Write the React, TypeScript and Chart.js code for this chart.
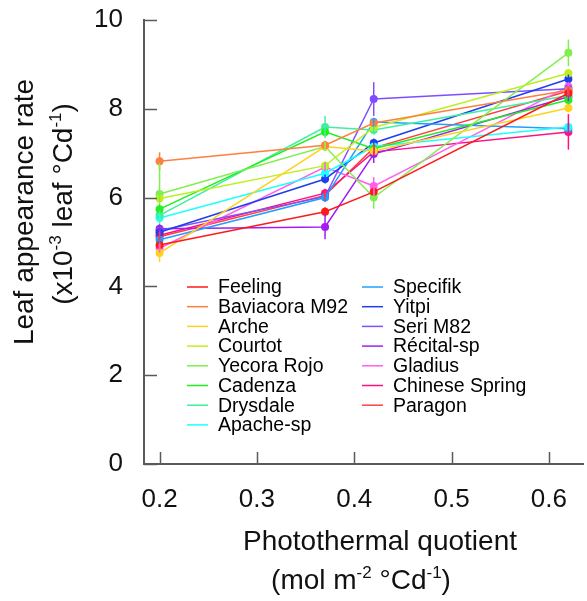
import React, { useEffect, useRef } from "react";
import { Chart, registerables } from "chart.js";

Chart.register(...registerables);

const xValues = [0.2, 0.37, 0.42, 0.62];

const seriesNames = [
  "Feeling", "Baviacora M92", "Arche", "Courtot", "Yecora Rojo", "Cadenza", "Drysdale", "Apache-sp",
  "Specifik", "Yitpi", "Seri M82", "Récital-sp", "Gladius", "Chinese Spring", "Paragon",
];

const seriesColors = [
  "#FF1A1A", "#FF7F3F", "#FFD21F", "#BFEF1F", "#7FEF4F", "#1FEF1F", "#3FEF9F", "#1FFFFF",
  "#1F9FFF", "#1F3FEF", "#7F4FFF", "#A01FEF", "#FF5FEF", "#FF0F7F", "#FF3F3F",
];

const feeling = [4.93, 5.68, 6.13, 8.35];
const baviacora = [6.82, 7.18, 7.68, 8.42];
const arche = [4.75, 7.15, 7.05, 8.02];
const courtot = [5.98, 6.72, 7.58, 8.8];
const yecora = [6.08, 7.15, 6.0, 9.26];
const cadenza = [5.74, 7.48, 7.1, 8.2];
const drysdale = [5.6, 7.59, 7.52, 8.3];
const apache = [5.54, 6.55, 7.15, 7.59];
const specifik = [5.05, 6.0, 7.7, 7.55];
const yitpi = [5.22, 6.42, 7.23, 8.67];
const seri = [5.26, 6.02, 8.22, 8.45];
const recital = [5.3, 5.34, 6.98, 8.27];
const gladius = [4.86, 6.69, 6.26, 8.5];
const chinese = [5.15, 6.1, 7.03, 7.48];
const paragon = [5.12, 6.05, 7.12, 8.4];

const feelingErr = [0.1, 0.1, 0.1, 0.12];
const baviacoraErr = [0.2, 0.1, 0.1, 0.1];
const archeErr = [0.2, 0.1, 0.1, 0.1];
const courtotErr = [0.1, 0.1, 0.1, 0.1];
const yecoraErr = [0.7, 0.1, 0.25, 0.3];
const cadenzaErr = [0.1, 0.1, 0.1, 0.1];
const drysdaleErr = [0.1, 0.25, 0.1, 0.1];
const apacheErr = [0.1, 0.1, 0.1, 0.1];
const specifikErr = [0.1, 0.1, 0.1, 0.1];
const yitpiErr = [0.1, 0.1, 0.1, 0.1];
const seriErr = [0.1, 0.1, 0.38, 0.1];
const recitalErr = [0.1, 0.28, 0.2, 0.1];
const gladiusErr = [0.1, 0.1, 0.2, 0.1];
const chineseErr = [0.1, 0.1, 0.1, 0.4];
const paragonErr = [0.1, 0.1, 0.1, 0.1];

const seriesValues = [feeling, baviacora, arche, courtot, yecora, cadenza, drysdale, apache,
  specifik, yitpi, seri, recital, gladius, chinese, paragon];
const seriesErrors = [feelingErr, baviacoraErr, archeErr, courtotErr, yecoraErr, cadenzaErr, drysdaleErr, apacheErr,
  specifikErr, yitpiErr, seriErr, recitalErr, gladiusErr, chineseErr, paragonErr];

const xTicks = [0.2, 0.3, 0.4, 0.5, 0.6];
const yTicks = [0, 2, 4, 6, 8, 10];

const FONT = "'Liberation Sans', Arial, sans-serif";
const AXIS_COLOR = "#595959";

type Part = { t: string; sup?: boolean };

function drawRich(ctx: CanvasRenderingContext2D, parts: Part[], cx: number, cy: number, size: number, supSize: number) {
  const widths = parts.map((p) => {
    ctx.font = `${p.sup ? supSize : size}px ${FONT}`;
    return ctx.measureText(p.t).width;
  });
  const total = widths.reduce((a, b) => a + b, 0);
  let x = cx - total / 2;
  ctx.textBaseline = "alphabetic";
  ctx.textAlign = "left";
  parts.forEach((p, i) => {
    ctx.font = `${p.sup ? supSize : size}px ${FONT}`;
    ctx.fillText(p.t, x, p.sup ? cy - size * 0.38 : cy);
    x += widths[i];
  });
}

const decorPlugin = {
  id: "decor",
  afterDatasetsDraw(chart: any) {
    const ctx = chart.ctx as CanvasRenderingContext2D;
    const xs = chart.scales.x;
    const ys = chart.scales.y;
    chart.data.datasets.forEach((ds: any) => {
      ctx.save();
      ctx.strokeStyle = ds.borderColor;
      ctx.lineWidth = 1.5;
      ds.data.forEach((pt: any, i: number) => {
        const e = ds.errors[i];
        const px = xs.getPixelForValue(pt.x);
        ctx.beginPath();
        ctx.moveTo(px, ys.getPixelForValue(pt.y - e));
        ctx.lineTo(px, ys.getPixelForValue(pt.y + e));
        ctx.stroke();
      });
      ctx.restore();
    });
  },
  afterDraw(chart: any) {
    const ctx = chart.ctx as CanvasRenderingContext2D;
    const xs = chart.scales.x;
    const ys = chart.scales.y;
    const area = chart.chartArea;
    ctx.save();
    ctx.strokeStyle = AXIS_COLOR;
    ctx.lineWidth = 1.5;
    yTicks.forEach((v) => {
      const py = Math.round(ys.getPixelForValue(v)) + 0.5;
      ctx.beginPath();
      ctx.moveTo(area.left, py);
      ctx.lineTo(area.left + 13, py);
      ctx.stroke();
    });
    xTicks.forEach((v) => {
      const px = Math.round(xs.getPixelForValue(v)) + 0.5;
      ctx.beginPath();
      ctx.moveTo(px, area.bottom);
      ctx.lineTo(px, area.bottom - 12);
      ctx.stroke();
    });
    ctx.font = `19.5px ${FONT}`;
    ctx.textBaseline = "middle";
    ctx.textAlign = "left";
    chart.data.datasets.forEach((ds: any, i: number) => {
      const col = i < 8 ? 0 : 1;
      const row = i < 8 ? i : i - 8;
      const y = 287 + row * 19.7;
      const lx = col === 0 ? 187 : 362;
      ctx.strokeStyle = ds.borderColor;
      ctx.lineWidth = 1.5;
      ctx.beginPath();
      ctx.moveTo(lx, y);
      ctx.lineTo(lx + 21, y);
      ctx.stroke();
      ctx.fillStyle = "#000";
      ctx.fillText(ds.label, lx + 31, y + 1);
    });
    ctx.fillStyle = "#111";
    drawRich(ctx, [{ t: "Photothermal quotient" }], 380, 550, 28, 17);
    drawRich(ctx, [{ t: "(mol m" }, { t: "-2", sup: true }, { t: " °Cd" }, { t: "-1", sup: true }, { t: ")" }], 361, 589, 28, 17);
    ctx.save();
    ctx.rotate(-Math.PI / 2);
    drawRich(ctx, [{ t: "Leaf appearance rate" }], -212, 33, 28, 17);
    drawRich(ctx, [{ t: "(x10" }, { t: "-3", sup: true }, { t: " leaf °Cd" }, { t: "-1", sup: true }, { t: ")" }], -204, 72, 28, 17);
    ctx.restore();
    ctx.restore();
  },
};

export default function App() {
  const canvasRef = useRef<HTMLCanvasElement | null>(null);

  useEffect(() => {
    if (!canvasRef.current) return;
    const datasets = seriesNames.map((name, i) => ({
      label: name,
      data: xValues.map((x, j) => ({ x, y: seriesValues[i][j] })),
      errors: seriesErrors[i],
      borderColor: seriesColors[i],
      backgroundColor: seriesColors[i],
      borderWidth: 1.5,
      pointRadius: 4,
      pointBorderWidth: 0,
      showLine: true,
      tension: 0,
    }));
    const chart = new Chart(canvasRef.current, {
      type: "scatter",
      data: { datasets } as any,
      plugins: [decorPlugin],
      options: {
        animation: false,
        responsive: false,
        maintainAspectRatio: false,
        layout: { padding: { top: 20, right: 0, left: 0, bottom: 0 } },
        plugins: { legend: { display: false }, tooltip: { enabled: false }, title: { display: false } },
        scales: {
          x: {
            type: "linear",
            min: 0.184,
            max: 0.635,
            afterFit: (s: any) => { s.height = 137; s.paddingLeft = 0; s.paddingRight = 0; },
            afterBuildTicks: (s: any) => { s.ticks = xTicks.map((v) => ({ value: v })); },
            grid: { display: false, drawTicks: false },
            border: { display: true, color: AXIS_COLOR, width: 2 },
            ticks: {
              padding: 20,
              color: "#111",
              font: { family: FONT, size: 26 },
              callback: (v: any) => Number(v).toFixed(1),
            },
          },
          y: {
            type: "linear",
            min: 0,
            max: 10,
            afterFit: (s: any) => { s.width = 144; s.paddingTop = 0; s.paddingBottom = 0; },
            afterBuildTicks: (s: any) => { s.ticks = yTicks.map((v) => ({ value: v })); },
            grid: { display: false, drawTicks: false },
            border: { display: true, color: AXIS_COLOR, width: 2 },
            ticks: {
              padding: 21,
              color: "#111",
              font: { family: FONT, size: 26 },
              callback: (v: any) => String(v),
            },
          },
        },
      } as any,
    });
    return () => chart.destroy();
  }, []);

  return (
    <div style={{ position: "fixed", left: 0, top: 0, width: 587, height: 601, background: "#fff" }}>
      <canvas ref={canvasRef} width={587} height={601} style={{ width: 587, height: 601 }} />
    </div>
  );
}
